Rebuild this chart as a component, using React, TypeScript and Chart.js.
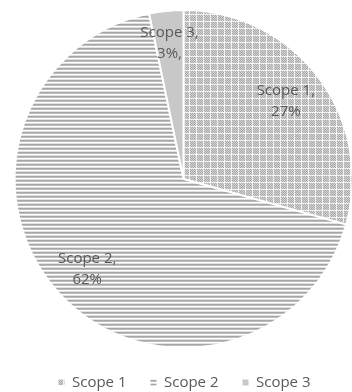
import React, { useEffect, useRef } from "react";
import { Chart, registerables } from "chart.js";

Chart.register(...registerables);

const categories = ["Scope 1", "Scope 2", "Scope 3"];
const values = [27, 62, 3];
const valueLabels = ["27%", "62%", "3%,"];
const labelRadiusFraction = [0.76, 0.78, 0.81];

const FONT = "'Open Sans', 'Noto Sans', sans-serif";
const TEXT_COLOR = "#595959";

function makeTile(w: number, h: number, pick: (x: number, y: number) => string): HTMLCanvasElement {
  const c = document.createElement("canvas");
  c.width = w;
  c.height = h;
  const g = c.getContext("2d")!;
  for (let y = 0; y < h; y++) {
    for (let x = 0; x < w; x++) {
      g.fillStyle = pick(x, y);
      g.fillRect(x, y, 1, 1);
    }
  }
  return c;
}

function makePatterns(ctx: CanvasRenderingContext2D) {
  const dotted = makeTile(7, 7, (x, y) => {
    if (x === 0 && y % 2 === 0) return "#ffffff";
    if (y === 0 && x % 2 === 0) return "#ffffff";
    if (x === 0 || y === 0) return "#e6e6e6";
    return (x + y) % 2 === 0 ? "#aaaaaa" : "#d2d2d2";
  });
  const striped = makeTile(1, 4, (_x, y) => ["#a6a6a6", "#bcbcbc", "#ffffff", "#e2e2e2"][y]);
  return [
    ctx.createPattern(dotted, "repeat")!,
    ctx.createPattern(striped, "repeat")!,
    "#c8c8c8",
  ];
}

const sliceLabelPlugin = {
  id: "sliceLabels",
  afterDatasetsDraw(chart: any) {
    const meta = chart.getDatasetMeta(0);
    const ctx = chart.ctx as CanvasRenderingContext2D;
    ctx.save();
    ctx.font = `15px ${FONT}`;
    ctx.fillStyle = TEXT_COLOR;
    ctx.textAlign = "center";
    ctx.textBaseline = "middle";
    meta.data.forEach((arc: any, i: number) => {
      const p = arc.getProps(["x", "y", "startAngle", "endAngle", "outerRadius"], true);
      const mid = (p.startAngle + p.endAngle) / 2;
      const d = p.outerRadius * labelRadiusFraction[i];
      const cx = p.x + Math.cos(mid) * d;
      const cy = p.y + Math.sin(mid) * d;
      ctx.fillText(`${categories[i]},`, cx, cy - 10.5);
      ctx.fillText(valueLabels[i], cx, cy + 10.5);
    });
    ctx.restore();
  },
};

export default function App() {
  const ref = useRef<HTMLCanvasElement | null>(null);

  useEffect(() => {
    const canvas = ref.current!;
    const ctx = canvas.getContext("2d")!;
    const fills = makePatterns(ctx);
    const chart = new Chart(ctx, {
      type: "pie",
      data: {
        labels: categories,
        datasets: [
          {
            data: values,
            backgroundColor: fills as any,
            borderColor: "#ffffff",
            borderWidth: 2,
            radius: 169,
          } as any,
        ],
      },
      options: {
        animation: false,
        responsive: false,
        layout: { padding: { left: 15, right: -2, top: 7, bottom: -8 } },
        plugins: {
          tooltip: { enabled: false },
          legend: {
            position: "bottom",
            labels: {
              boxWidth: 6,
              boxHeight: 6,
              padding: 24,
              color: TEXT_COLOR,
              font: { family: FONT, size: 15 },
              generateLabels: (c: any) =>
                (Chart as any).overrides.pie.plugins.legend.labels
                  .generateLabels(c)
                  .map((l: any) => ({ ...l, lineWidth: 0, strokeStyle: "rgba(0,0,0,0)" })),
            },
          },
        },
      },
      plugins: [sliceLabelPlugin],
    });
    return () => chart.destroy();
  }, []);

  return (
    <div style={{ position: "fixed", left: 0, top: 0, width: 352, height: 392, background: "#fff" }}>
      <canvas ref={ref} width={352} height={392} style={{ display: "block" }} />
    </div>
  );
}
